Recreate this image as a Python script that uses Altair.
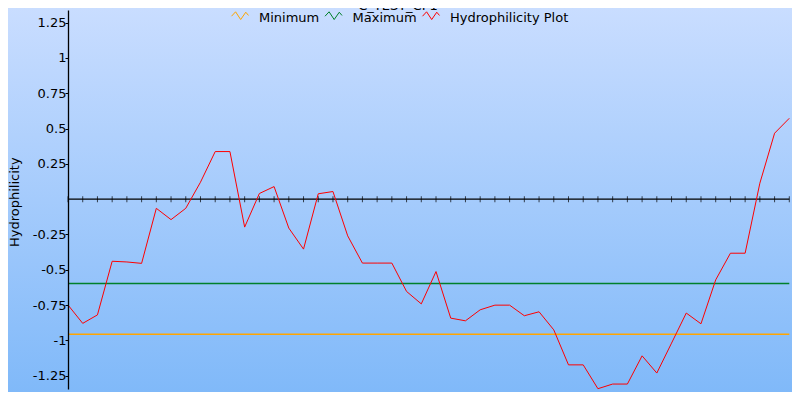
import altair as alt
import pandas as pd

# ---- data ----
positions = list(range(1, 51))
hydrophilicity = [
    -0.75, -0.88, -0.82, -0.44, -0.445, -0.455, -0.065, -0.145, -0.065, 0.12,
    0.337, 0.337, -0.198, 0.04, 0.089, -0.205, -0.354, 0.038, 0.054, -0.26,
    -0.453, -0.453, -0.453, -0.654, -0.742, -0.513, -0.843, -0.862, -0.784, -0.751,
    -0.751, -0.826, -0.798, -0.926, -1.174, -1.174, -1.343, -1.31, -1.31, -1.11,
    -1.232, -1.02, -0.807, -0.883, -0.572, -0.383, -0.383, 0.113, 0.467, 0.573,
]
ref_names = ["Minimum", "Maximum"]
ref_values = [-0.958, -0.597]
series_names = ["Minimum", "Maximum", "Hydrophilicity Plot"]
series_colors = ["#ffa500", "#00802a", "#ff0000"]
y_tick_values = [-1.25, -1, -0.75, -0.5, -0.25, 0.25, 0.5, 0.75, 1, 1.25]
chart_title = "C_TEST_CP1"
y_title = "Hydrophilicity"

FONT = "DejaVu Sans"
W, H = 721.3, 379
PAD = {"left": 60, "top": 2, "right": 2.7, "bottom": 3}

line_df = pd.DataFrame({"pos": positions, "value": hydrophilicity,
                        "series": ["Hydrophilicity Plot"] * len(positions)})
ref_df = pd.DataFrame({"value": ref_values, "series": ref_names})
tick_df = pd.DataFrame({"pos": positions, "zero": [0] * len(positions)})
one_df = pd.DataFrame({"a": [0]})

x_scale = alt.Scale(domain=[1, 50], nice=False, zero=False)
y_scale = alt.Scale(domain=[-1.345, 1.34], nice=False, zero=False)
color_scale = alt.Scale(domain=series_names, range=series_colors)

bg = alt.Chart(one_df).mark_rect(
    color=alt.Gradient(
        gradient="linear",
        stops=[alt.GradientStop(color="#c9ddff", offset=0),
               alt.GradientStop(color="#80b9f9", offset=1)],
        x1=0, x2=0, y1=0, y2=1,
    )
).encode(
    x=alt.value(-PAD["left"]), x2=alt.value(W + PAD["right"]),
    y=alt.value(-PAD["top"]), y2=alt.value(H + PAD["bottom"]),
)

zero_line = alt.Chart(one_df).mark_rule(color="black", strokeWidth=1.3).encode(
    y=alt.datum(0, scale=y_scale)
)

x_ticks = alt.Chart(tick_df).mark_tick(
    orient="vertical", size=6, thickness=1, color="black"
).encode(
    x=alt.X("pos:Q", scale=x_scale, axis=None),
    y=alt.Y("zero:Q", scale=y_scale),
)

rules = alt.Chart(ref_df).mark_rule(strokeWidth=1.5).encode(
    y=alt.Y("value:Q", scale=y_scale),
    color=alt.Color("series:N", scale=color_scale),
)

line = alt.Chart(line_df).mark_line(strokeWidth=1).encode(
    x=alt.X("pos:Q", scale=x_scale, axis=None),
    y=alt.Y(
        "value:Q", scale=y_scale,
        axis=alt.Axis(
            values=y_tick_values, grid=False, zindex=2,
            labelExpr="replace(format(datum.value, '~g'), '\u2212', '-')",
            domainColor="black", domainWidth=1.3,
            tickColor="black", tickSize=3, tickWidth=1,
            labelColor="black", labelFont=FONT, labelFontSize=13, labelPadding=-1,
            title=y_title, titleFont=FONT, titleFontSize=13, titleFontWeight="normal",
            titleColor="black", titleAngle=270, titleAlign="center",
            titleBaseline="middle", titleX=-53.5, titleY=191.7,
        ),
    ),
    color=alt.Color(
        "series:N", scale=color_scale,
        legend=alt.Legend(
            title=None, orient="none", legendX=163, legendY=-1.5,
            direction="horizontal",
            symbolType="M-1,-0.15L-0.52,-0.67L0.08,0.24L0.68,-0.62L1,-0.24",
            symbolSize=289, symbolStrokeWidth=1, symbolFillColor="transparent",
            labelFont=FONT, labelFontSize=13, labelColor="black",
            labelOffset=10, columnPadding=2.5, padding=0,
        ),
    ),
)

title = alt.Chart(one_df).mark_text(
    text=chart_title, font=FONT, fontSize=13, color="black",
    align="center", baseline="alphabetic",
).encode(x=alt.value(330), y=alt.value(-0.5))

chart = alt.layer(bg, zero_line, x_ticks, rules, line, title).properties(
    width=W, height=H, padding=PAD,
    autosize=alt.AutoSizeParams(type="none"),
    background="#c9ddff",
).configure_view(stroke=None)

chart.save("out.html", embed_options={"renderer": "svg", "actions": False})
